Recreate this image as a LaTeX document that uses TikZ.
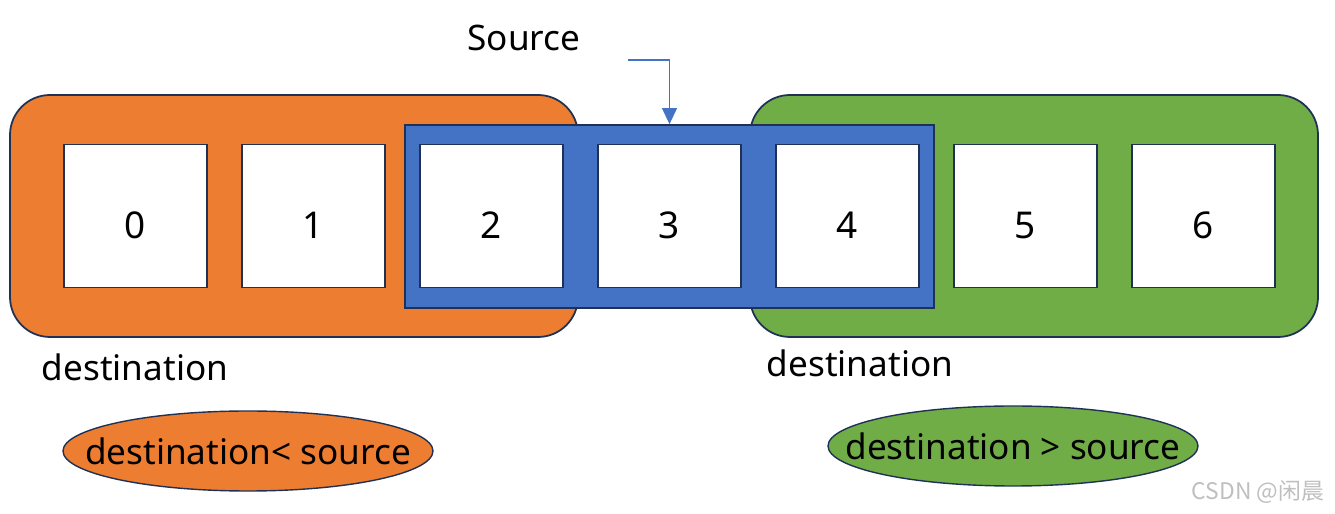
\documentclass[tikz,border=0pt]{standalone}
\usepackage{fontspec}
\setmainfont{Noto Sans}
\newfontfamily\cjkfont{Noto Sans CJK SC}
\usepackage{xcolor}
\usetikzlibrary{arrows.meta, positioning, shapes.geometric}
\definecolor{RangeOrange}{HTML}{ED7D31}
\definecolor{RangeGreen}{HTML}{70AD47}
\definecolor{SrcBlue}{HTML}{4472C4}
\definecolor{EdgeNavy}{HTML}{1F3255}
\tikzset{
  range box/.style={rectangle, rounded corners=0.8cm, draw=EdgeNavy,
                    line width=1pt, minimum width=11.36cm, minimum height=4.84cm},
  src box/.style={rectangle, draw=EdgeNavy, fill=SrcBlue, line width=1pt,
                  minimum width=10.58cm, minimum height=3.66cm},
  cell node/.style={rectangle, draw=EdgeNavy, fill=white, line width=1pt,
                    minimum size=2.86cm, inner sep=0pt, outer sep=0pt,
                    text height=0.92cm, text depth=0pt,
                    font=\fontsize{21}{25}\selectfont},
  note text/.style={font=\fontsize{20}{24}\selectfont, inner sep=0pt},
  case oval/.style={ellipse, draw=EdgeNavy, line width=0.8pt,
                    inner xsep=-1cm, inner ysep=0pt,
                    minimum width=7.4cm, minimum height=1.6cm,
                    font=\fontsize{20}{24}\selectfont},
  src arrow/.style={-{Triangle[length=3.2mm, width=3mm]}, draw=SrcBlue, line width=0.6pt},
}
\begin{document}
\begin{tikzpicture}[node distance=0.7cm]
  \useasboundingbox (0,0) rectangle (26.7,10.28);
  % destination ranges
  \node[range box, fill=RangeOrange] (lowrange) at (5.88,5.96) {};
  \node[range box, fill=RangeGreen] (highrange) at (20.68,5.96) {};
  % source range
  \node[src box] (src) at (13.39,5.95) {};
  % array cells
  \node[cell node] (c0) at (2.71,5.96) {0};
  \node[cell node, right=of c0] (c1) {1};
  \node[cell node, right=of c1] (c2) {2};
  \node[cell node, right=of c2] (c3) {3};
  \node[cell node, right=of c3] (c4) {4};
  \node[cell node, right=of c4] (c5) {5};
  \node[cell node, right=of c5] (c6) {6};
  % labels
  \node[note text] (srclabel) at (10.48,9.52) {Source};
  \coordinate (srctail) at (12.56,9.08);
  \draw[src arrow] (srctail) -| (src.north);
  \node[note text] (lowlabel) at (2.7,2.94) {destination};
  \node[note text] (highlabel) at (17.2,3.02) {destination};
  % cases
  \node[case oval, fill=RangeOrange] (lowcase) at (4.96,1.26) {destination< source};
  \node[case oval, fill=RangeGreen] (highcase) at (20.26,1.36) {destination > source};
  \node[font=\cjkfont\fontsize{13}{15}\selectfont, text=black!25, inner sep=0pt]
    (mark) at (25.16,0.44) {CSDN @闲晨};
\end{tikzpicture}
\end{document}
